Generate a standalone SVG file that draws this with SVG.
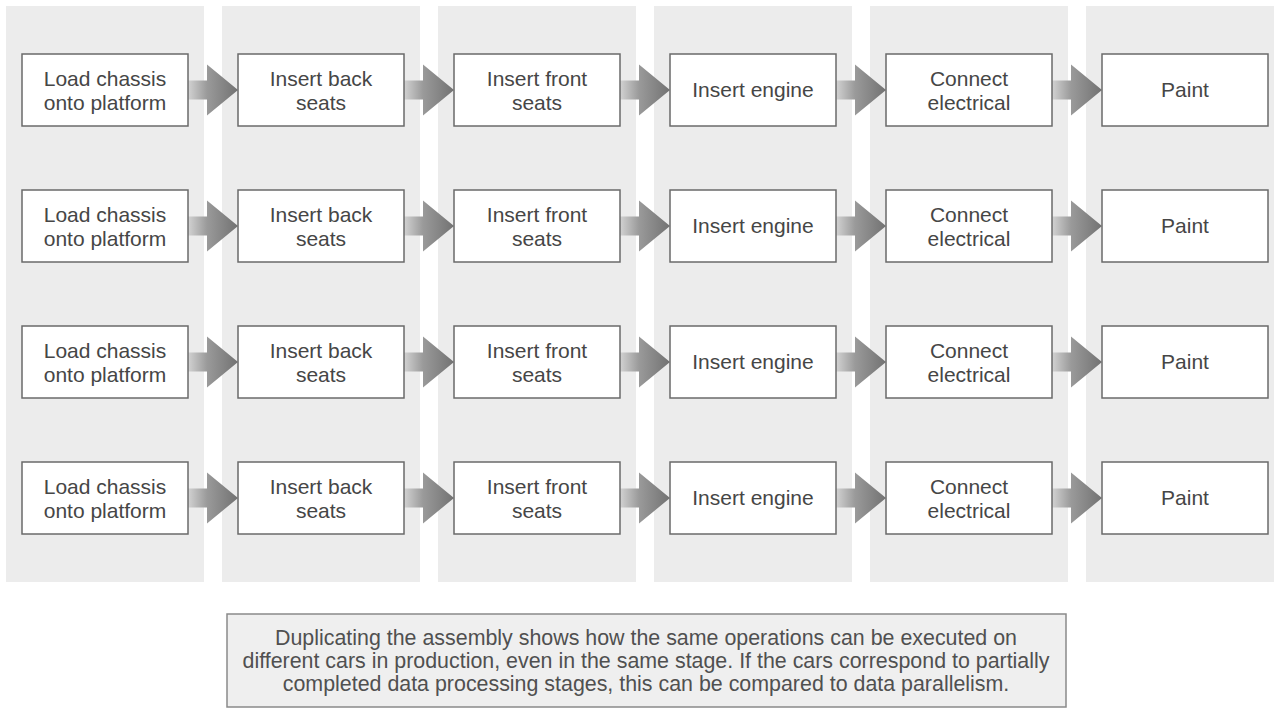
<svg xmlns="http://www.w3.org/2000/svg" xmlns:xlink="http://www.w3.org/1999/xlink" width="1276" height="710" viewBox="0 0 1276 710">
  <style>
    .lane { fill: #ececec; }
    .box { fill: #ffffff; stroke: #6a6a6a; stroke-width: 1.5; }
    .lbl { font-family: "Liberation Sans", Arial, sans-serif; font-size: 21px; fill: #464646; text-anchor: middle; }
    .note { fill: #efefef; stroke: #8a8a8a; stroke-width: 1.5; }
    .notetxt { font-family: "Liberation Sans", Arial, sans-serif; font-size: 21.4px; fill: #505050; text-anchor: middle; }
  </style>
  <defs>
    <linearGradient id="arrowFill" x1="0" y1="0" x2="1" y2="0">
      <stop offset="0" stop-color="#d2d2d2"/>
      <stop offset="0.38" stop-color="#9a9a9a"/>
      <stop offset="1" stop-color="#727272"/>
    </linearGradient>
    <!-- block arrow: origin at the sending box's right edge, vertical centre -->
    <path id="blockArrow" d="M0,-9.5 H19 V-25.5 L50,0 L19,25.5 V9.5 H0 Z" fill="url(#arrowFill)"/>
  </defs>

  <!-- stage lanes -->
  <g id="lanes">
    <rect class="lane" x="6" y="6" width="198" height="576"/>
    <rect class="lane" x="222" y="6" width="198" height="576"/>
    <rect class="lane" x="438" y="6" width="198" height="576"/>
    <rect class="lane" x="654" y="6" width="198" height="576"/>
    <rect class="lane" x="870" y="6" width="198" height="576"/>
    <rect class="lane" x="1086" y="6" width="188" height="576"/>
  </g>

  <!-- connectors between stages -->
  <g id="connectors">
    <use xlink:href="#blockArrow" x="188" y="90"/>
    <use xlink:href="#blockArrow" x="404" y="90"/>
    <use xlink:href="#blockArrow" x="620" y="90"/>
    <use xlink:href="#blockArrow" x="836" y="90"/>
    <use xlink:href="#blockArrow" x="1052" y="90"/>
    <use xlink:href="#blockArrow" x="188" y="226"/>
    <use xlink:href="#blockArrow" x="404" y="226"/>
    <use xlink:href="#blockArrow" x="620" y="226"/>
    <use xlink:href="#blockArrow" x="836" y="226"/>
    <use xlink:href="#blockArrow" x="1052" y="226"/>
    <use xlink:href="#blockArrow" x="188" y="362"/>
    <use xlink:href="#blockArrow" x="404" y="362"/>
    <use xlink:href="#blockArrow" x="620" y="362"/>
    <use xlink:href="#blockArrow" x="836" y="362"/>
    <use xlink:href="#blockArrow" x="1052" y="362"/>
    <use xlink:href="#blockArrow" x="188" y="498"/>
    <use xlink:href="#blockArrow" x="404" y="498"/>
    <use xlink:href="#blockArrow" x="620" y="498"/>
    <use xlink:href="#blockArrow" x="836" y="498"/>
    <use xlink:href="#blockArrow" x="1052" y="498"/>
  </g>

  <!-- row 1 -->
  <g id="r1-load"><rect class="box" x="22" y="54" width="166" height="72"/><text class="lbl" x="105" y="86">Load chassis</text><text class="lbl" x="105" y="110">onto platform</text></g>
  <g id="r1-back"><rect class="box" x="238" y="54" width="166" height="72"/><text class="lbl" x="321" y="86">Insert back</text><text class="lbl" x="321" y="110">seats</text></g>
  <g id="r1-front"><rect class="box" x="454" y="54" width="166" height="72"/><text class="lbl" x="537" y="86">Insert front</text><text class="lbl" x="537" y="110">seats</text></g>
  <g id="r1-engine"><rect class="box" x="670" y="54" width="166" height="72"/><text class="lbl" x="753" y="97">Insert engine</text></g>
  <g id="r1-elec"><rect class="box" x="886" y="54" width="166" height="72"/><text class="lbl" x="969" y="86">Connect</text><text class="lbl" x="969" y="110">electrical</text></g>
  <g id="r1-paint"><rect class="box" x="1102" y="54" width="166" height="72"/><text class="lbl" x="1185" y="97">Paint</text></g>

  <!-- row 2 -->
  <g id="r2-load"><rect class="box" x="22" y="190" width="166" height="72"/><text class="lbl" x="105" y="222">Load chassis</text><text class="lbl" x="105" y="246">onto platform</text></g>
  <g id="r2-back"><rect class="box" x="238" y="190" width="166" height="72"/><text class="lbl" x="321" y="222">Insert back</text><text class="lbl" x="321" y="246">seats</text></g>
  <g id="r2-front"><rect class="box" x="454" y="190" width="166" height="72"/><text class="lbl" x="537" y="222">Insert front</text><text class="lbl" x="537" y="246">seats</text></g>
  <g id="r2-engine"><rect class="box" x="670" y="190" width="166" height="72"/><text class="lbl" x="753" y="233">Insert engine</text></g>
  <g id="r2-elec"><rect class="box" x="886" y="190" width="166" height="72"/><text class="lbl" x="969" y="222">Connect</text><text class="lbl" x="969" y="246">electrical</text></g>
  <g id="r2-paint"><rect class="box" x="1102" y="190" width="166" height="72"/><text class="lbl" x="1185" y="233">Paint</text></g>

  <!-- row 3 -->
  <g id="r3-load"><rect class="box" x="22" y="326" width="166" height="72"/><text class="lbl" x="105" y="358">Load chassis</text><text class="lbl" x="105" y="382">onto platform</text></g>
  <g id="r3-back"><rect class="box" x="238" y="326" width="166" height="72"/><text class="lbl" x="321" y="358">Insert back</text><text class="lbl" x="321" y="382">seats</text></g>
  <g id="r3-front"><rect class="box" x="454" y="326" width="166" height="72"/><text class="lbl" x="537" y="358">Insert front</text><text class="lbl" x="537" y="382">seats</text></g>
  <g id="r3-engine"><rect class="box" x="670" y="326" width="166" height="72"/><text class="lbl" x="753" y="369">Insert engine</text></g>
  <g id="r3-elec"><rect class="box" x="886" y="326" width="166" height="72"/><text class="lbl" x="969" y="358">Connect</text><text class="lbl" x="969" y="382">electrical</text></g>
  <g id="r3-paint"><rect class="box" x="1102" y="326" width="166" height="72"/><text class="lbl" x="1185" y="369">Paint</text></g>

  <!-- row 4 -->
  <g id="r4-load"><rect class="box" x="22" y="462" width="166" height="72"/><text class="lbl" x="105" y="494">Load chassis</text><text class="lbl" x="105" y="518">onto platform</text></g>
  <g id="r4-back"><rect class="box" x="238" y="462" width="166" height="72"/><text class="lbl" x="321" y="494">Insert back</text><text class="lbl" x="321" y="518">seats</text></g>
  <g id="r4-front"><rect class="box" x="454" y="462" width="166" height="72"/><text class="lbl" x="537" y="494">Insert front</text><text class="lbl" x="537" y="518">seats</text></g>
  <g id="r4-engine"><rect class="box" x="670" y="462" width="166" height="72"/><text class="lbl" x="753" y="505">Insert engine</text></g>
  <g id="r4-elec"><rect class="box" x="886" y="462" width="166" height="72"/><text class="lbl" x="969" y="494">Connect</text><text class="lbl" x="969" y="518">electrical</text></g>
  <g id="r4-paint"><rect class="box" x="1102" y="462" width="166" height="72"/><text class="lbl" x="1185" y="505">Paint</text></g>

  <!-- explanatory note -->
  <g id="note">
    <rect class="note" x="227" y="614" width="839" height="93"/>
    <text class="notetxt" x="646" y="645">Duplicating the assembly shows how the same operations can be executed on</text>
    <text class="notetxt" x="646" y="668">different cars in production, even in the same stage. If the cars correspond to partially</text>
    <text class="notetxt" x="646" y="691">completed data processing stages, this can be compared to data parallelism.</text>
  </g>
</svg>
